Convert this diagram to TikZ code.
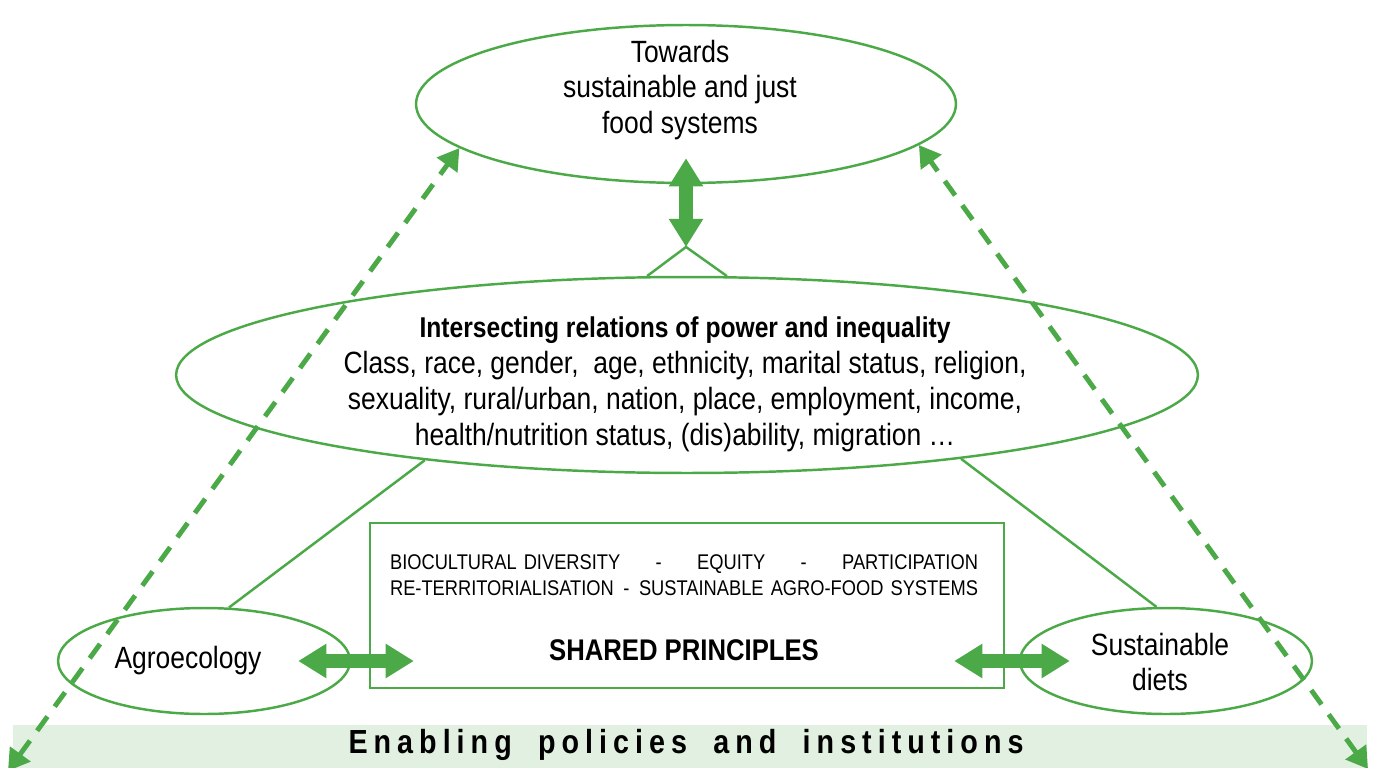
\documentclass[tikz,border=0pt]{standalone}
\usepackage{fontspec}
\setmainfont{Liberation Sans}[FakeStretch=0.86]
\usepackage{tikz}
\usetikzlibrary{shapes}
\usetikzlibrary{arrows.meta,arrows}
\usetikzlibrary{fit,positioning}
\tikzset{>=latex}
\definecolor{leaf}{HTML}{4BAA47}
\definecolor{leaflight}{HTML}{E2F0E1}

\begin{document}
\begin{tikzpicture}[
    x=0.02cm, y=-0.02cm,
    bubble/.style={ellipse, draw=leaf, line width=1.4pt, inner sep=0pt},
    punkt/.style={rectangle, draw=leaf, line width=1.4pt, inner sep=0pt},
    txt/.style={align=center, inner sep=0pt, font=\fontsize{17.5}{20}\selectfont},
    link/.style={draw=leaf, line width=1.4pt},
    fat/.style={leaf, line width=8.5pt,
        {Triangle[width=18.5pt,length=16pt]}-{Triangle[width=18.5pt,length=16pt]}},
    hint/.style={leaf, line width=2.8pt, dash pattern=on 10pt off 7pt,
        {Triangle[width=14pt,length=12pt]}-{Triangle[width=14pt,length=12pt]}}
    ]
\useasboundingbox (0,0) rectangle (1375,767);

% bottom band
\node[fill=leaflight, minimum width=27.08cm, minimum height=1cm, inner sep=0pt]
    (band) at (690,750) {};
\node[inner sep=0pt, font=\fontsize{19}{22}\bfseries\addfontfeature{LetterSpace=18}]
    (bandtxt) at (686,745) {Enabling\hspace{7pt} policies\hspace{7pt} and\hspace{7pt} institutions};

% ellipses and box
\node[bubble, minimum width=10.8cm, minimum height=3.16cm] (goal) at (686,104) {};
\node[bubble, minimum width=20.44cm, minimum height=3.92cm] (mid) at (687,375) {};
\node[bubble, minimum width=5.84cm, minimum height=2.12cm] (agro) at (204,661) {};
\node[bubble, minimum width=5.84cm, minimum height=2.12cm] (diets) at (1166,661) {};
\node[punkt, minimum width=12.68cm, minimum height=3.3cm] (box) at (687,605.5) {};

% texts
\node[txt] (goaltxt) at (680,90) {Towards\\sustainable and just\\food systems};
\node[txt, font=\fontsize{17.5}{20.5}\selectfont] (midtxt) at (685,384) {%
    {\fontsize{16.3}{20.5}\selectfont\bfseries Intersecting relations of power and inequality}\\
    Class, race, gender,\ \ age, ethnicity, marital status, religion,\\
    sexuality, rural/urban, nation, place, employment, income,\\
    health/nutrition status, (dis)ability, migration \dots};
\node[txt] (agrotxt) at (188,661) {Agroecology};
\node[txt] (dietstxt) at (1160,662) {Sustainable\\diets};
\node[inner sep=0pt, text width=11.76cm, font=\fontsize{12.1}{14.8}\selectfont]
    (principles) at (684,575) {%
    BIOCULTURAL DIVERSITY\hfill-\hfill EQUITY\hfill-\hfill PARTICIPATION\\
    RE-TERRITORIALISATION\hfill-\hfill SUSTAINABLE AGRO-FOOD SYSTEMS};
\node[txt, font=\fontsize{17}{20}\bfseries] (shared) at (684,650) {SHARED PRINCIPLES};

% connectors
\coordinate (apex) at (686,247);
\coordinate (sw) at (8,771);
\coordinate (se) at (1368,769);
\coordinate (la) at ([xshift=-1.06cm]agro.east);
\coordinate (lb) at ([xshift=0.9cm]box.west |- agro.east);
\coordinate (ra) at ([xshift=-1.02cm]box.east |- diets.west);
\coordinate (rb) at ([xshift=1.02cm]diets.west);
\draw[link] (mid.112) -- (apex) -- (mid.68);
\draw[link] (mid.198) -- (agro.65);
\draw[link] (mid.343) -- (diets.100);
\draw[fat] ([yshift=0.52cm]goal.south) -- (apex);
\draw[fat] (la) -- (lb);
\draw[fat] (ra) -- (rb);
\draw[hint] (sw) -- (goal.191);
\draw[hint] (se) -- (goal.350);
\end{tikzpicture}
\end{document}
